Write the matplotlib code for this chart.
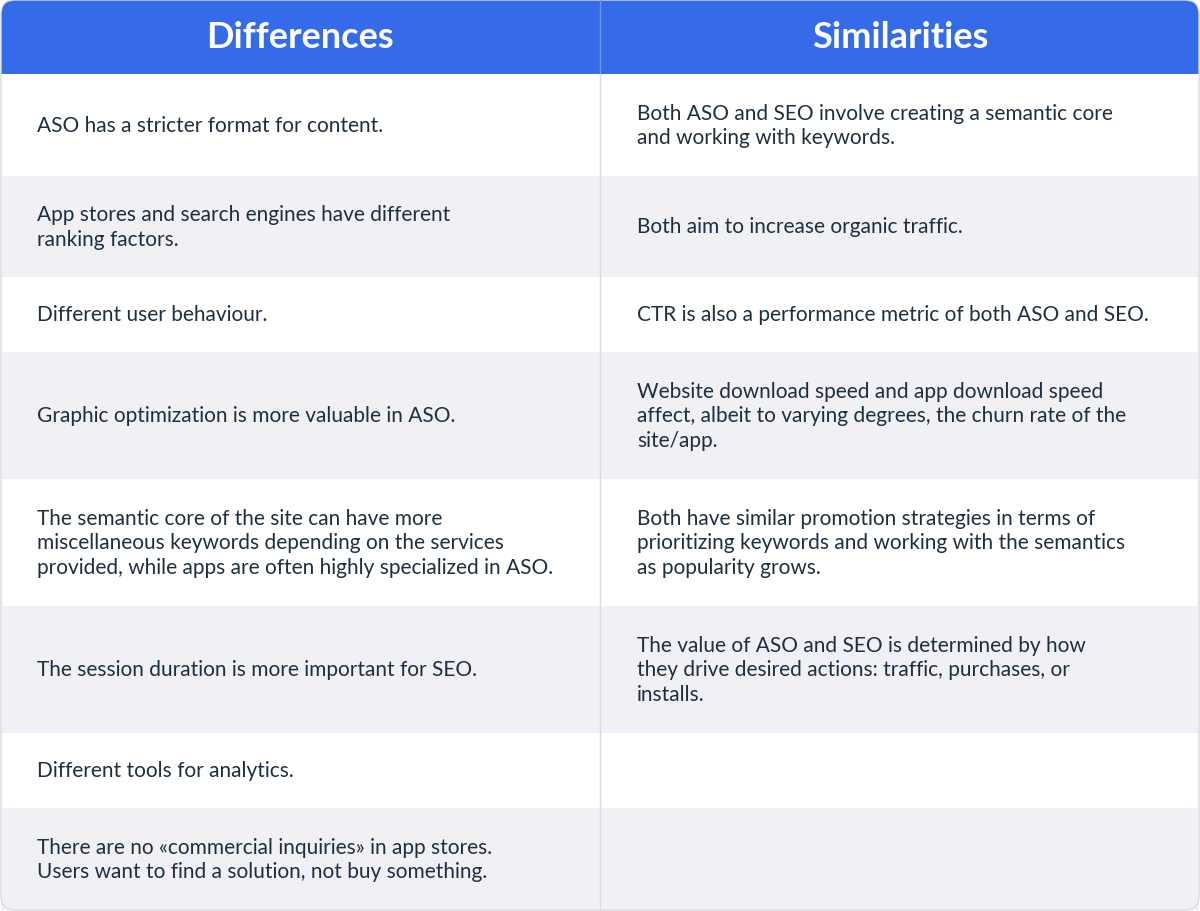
import matplotlib
matplotlib.use("Agg")
import matplotlib.pyplot as plt
from matplotlib.patches import Rectangle, FancyBboxPatch

headers = ["Differences", "Similarities"]
differences = [
    "ASO has a stricter format for content.",
    "App stores and search engines have different\nranking factors.",
    "Different user behaviour.",
    "Graphic optimization is more valuable in ASO.",
    "The semantic core of the site can have more\nmiscellaneous keywords depending on the services\nprovided, while apps are often highly specialized in ASO.",
    "The session duration is more important for SEO.",
    "Different tools for analytics.",
    "There are no «commercial inquiries» in app stores.\nUsers want to find a solution, not buy something.",
]
similarities = [
    "Both ASO and SEO involve creating a semantic core\nand working with keywords.",
    "Both aim to increase organic traffic.",
    "CTR is also a performance metric of both ASO and SEO.",
    "Website download speed and app download speed\naffect, albeit to varying degrees, the churn rate of the\nsite/app.",
    "Both have similar promotion strategies in terms of\nprioritizing keywords and working with the semantics\nas popularity grows.",
    "The value of ASO and SEO is determined by how\nthey drive desired actions: traffic, purchases, or\ninstalls.",
    "",
    "",
]
row_edges = [75, 177, 278, 353, 480, 607, 734, 809, 911]

W, H = 1200, 912
fig = plt.figure(figsize=(12, 9.12), dpi=100)
ax = fig.add_axes([0, 0, 1, 1])
ax.set_xlim(0, W); ax.set_ylim(H, 0); ax.axis("off")

blue = "#356be8"
grey = "#f0f0f5"
txt = "#1e2f3f"
line = "#d8dbe3"

ax.add_patch(FancyBboxPatch((1, 1), W - 2, 95, boxstyle="round,pad=0,rounding_size=14",
                            fc=blue, ec="none"))
for i in range(len(differences)):
    y0, y1 = row_edges[i], row_edges[i + 1]
    fc = "white" if i % 2 == 0 else grey
    ax.add_patch(Rectangle((1, y0), W - 2, y1 - y0, fc=fc, ec="none"))
    ax.text(37, (y0 + y1) / 2, differences[i], va="center", ha="left", fontsize=15,
            color=txt, family="Lato", linespacing=1.3)
    ax.text(637, (y0 + y1) / 2, similarities[i], va="center", ha="left", fontsize=15,
            color=txt, family="Lato", linespacing=1.3)
ax.plot([600, 600], [0, 75], color="#6f94ef", lw=1)
ax.plot([600, 600], [75, 911], color=line, lw=1)
ax.add_patch(FancyBboxPatch((1, 1), W - 2, H - 2, boxstyle="round,pad=0,rounding_size=14",
                            fc="none", ec=line, lw=1))
for j, h in enumerate(headers):
    ax.text(300 + 600 * j, 38, h, ha="center", va="center", fontsize=26, color="white",
            family="Lato", fontweight="bold")
fig.savefig("out.png", dpi=100, facecolor="white")
